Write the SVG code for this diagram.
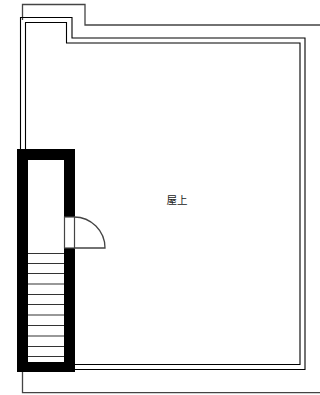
<svg xmlns="http://www.w3.org/2000/svg" width="320" height="395" viewBox="0 0 320 395">
<style>
.l{fill:none;stroke:#000;stroke-width:1.1}
.g{fill:none;stroke:#444;stroke-width:1.300}
.s{stroke:#333;stroke-width:1.200}
text{font-family:"Noto Sans CJK JP","Noto Sans CJK SC",sans-serif;font-size:10.500px;fill:#222}
</style>
<rect width="320" height="395" fill="#fff"/>
<g id="outline">
<path class="g" d="M22.500 20V4.500H85V25H320"/>
<path class="g" d="M22.500 372V392.700H320"/>
<path class="l" d="M20.500 149V17.500H72V38H305V369.500H75"/>
<path class="l" d="M25.500 149V22.500H66.500V43H300V364.500H75"/>
</g>
<g id="stairwell">
<path fill="#000" fill-rule="evenodd" d="M17 149H75V372H17ZM28 160V362H64V160Z"/>
<rect x="64.500" y="217" width="10" height="31" fill="#fff" stroke="#444" stroke-width="1.200"/>
<path class="g" d="M74 217A31 31 0 0 1 105 248H74"/>
</g>
<g id="stairs">
<path class="s" d="M28 253.500H64M28 263.500H64M28 273.500H64M28 284H64M28 294.500H64M28 304.500H64M28 315H64M28 325.500H64M28 336H64M28 346.500H64M28 356.500H64"/>
</g>
<g id="label"><text x="177" y="204" text-anchor="middle">屋上</text></g>
</svg>
